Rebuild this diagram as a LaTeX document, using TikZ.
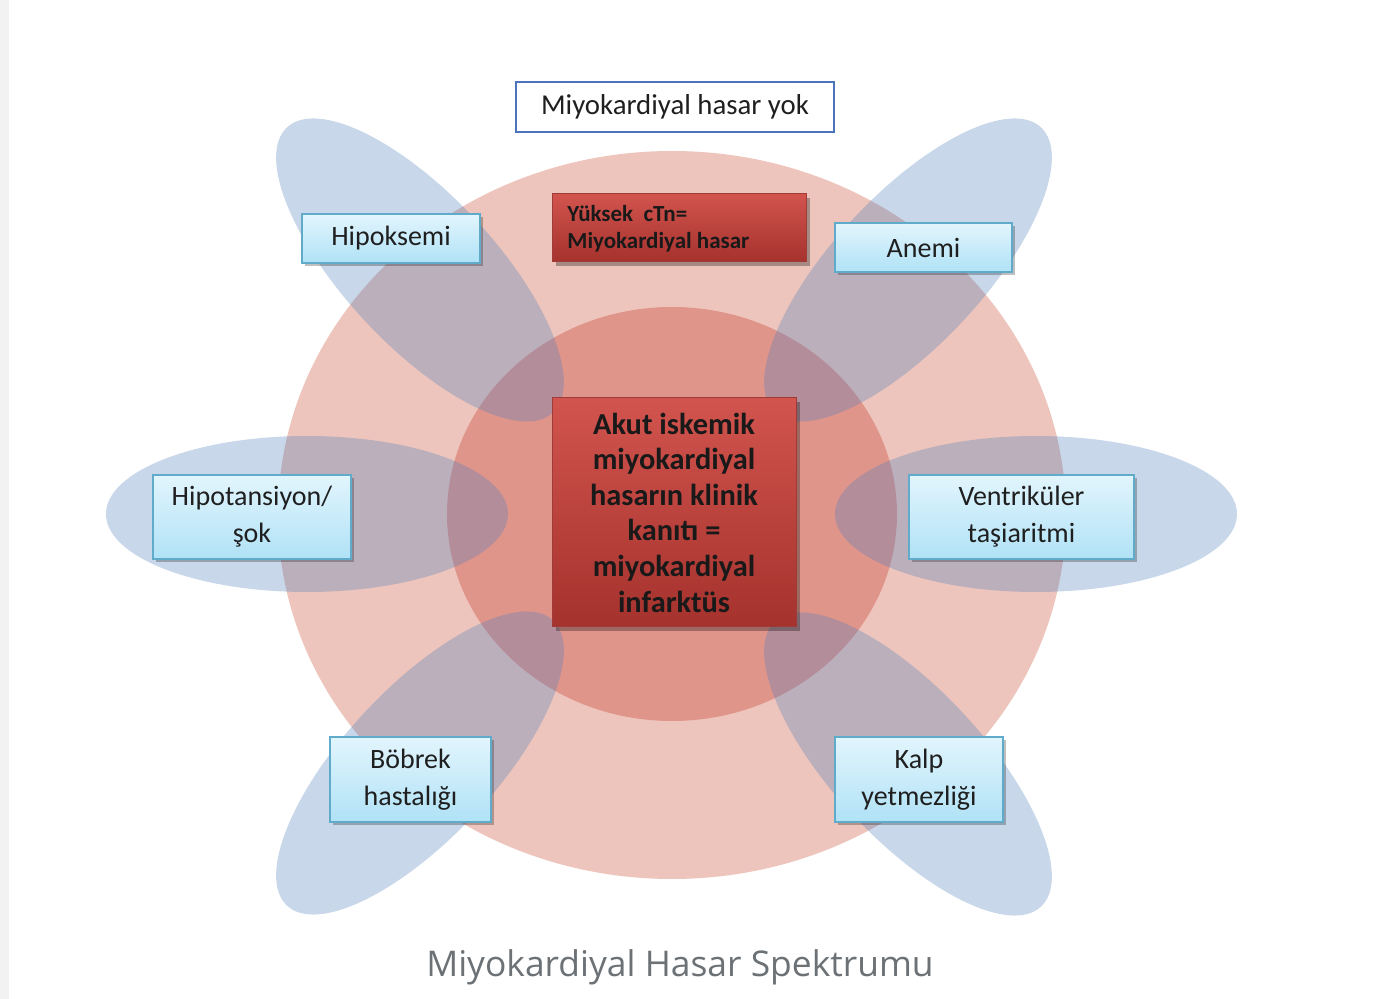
\documentclass[tikz,border=0pt]{standalone}
\usepackage{fontspec}
\setmainfont{Carlito}
\newfontfamily\capfont{Open Sans}
\usetikzlibrary{shadows}
\definecolor{outerc}{RGB}{238,197,188}
\definecolor{innerc}{RGB}{224,149,139}
\definecolor{petalc}{RGB}{79,129,189}
\definecolor{bluetop}{RGB}{226,245,253}
\definecolor{bluebot}{RGB}{176,226,246}
\definecolor{blueline}{RGB}{96,170,202}
\definecolor{redtop}{RGB}{210,84,78}
\definecolor{redbot}{RGB}{165,50,45}
\definecolor{redline}{RGB}{160,60,55}
\definecolor{topline}{RGB}{76,116,188}
\definecolor{capgray}{RGB}{108,113,118}
\definecolor{stripgray}{RGB}{242,242,242}
\tikzset{
  petal/.style={fill=petalc, fill opacity=0.31},
  bluebox/.style={draw=blueline, line width=0.6pt, top color=bluetop, bottom color=bluebot,
    inner sep=0pt, align=center, font=\fontsize{14}{18.5}\selectfont, text=black!88,
    drop shadow={shadow xshift=1.5pt, shadow yshift=-1.5pt, opacity=0.25, fill=black}},
  redbox/.style={draw=redline, line width=0.5pt, top color=redtop, bottom color=redbot,
    inner sep=0pt, text=black!90,
    drop shadow={shadow xshift=1.8pt, shadow yshift=-1.8pt, opacity=0.3, fill=black}},
}
\begin{document}
\begin{tikzpicture}[x=0.5pt,y=-0.5pt]
\useasboundingbox (0,0) rectangle (1389,999);
\fill[white] (0,0) rectangle (1389,999);
\fill[stripgray] (0,0) rectangle (9,999);
% circles
\fill[outerc] (672,515) ellipse [x radius=394, y radius=364];
\fill[innerc] (672,514) ellipse [x radius=225, y radius=207];
% petals
\fill[petal, rotate around={-47:(420,270)}] (420,270) ellipse [x radius=195, y radius=75];
\fill[petal, rotate around={47:(908,270)}] (908,270) ellipse [x radius=195, y radius=75];
\fill[petal] (307,514) ellipse [x radius=201, y radius=78];
\fill[petal] (1036,514) ellipse [x radius=201, y radius=78];
\fill[petal, rotate around={47:(420,763)}] (420,763) ellipse [x radius=195, y radius=75];
\fill[petal, rotate around={-47:(908,764)}] (908,764) ellipse [x radius=195, y radius=75];
% top box
\node[draw=topline, line width=1pt, fill=white, minimum width=159pt, minimum height=25pt,
  inner sep=0pt, font=\fontsize{14.4}{17}\selectfont, text=black!88] (yok) at (675,107) {Miyokardiyal hasar yok};
% red boxes
\node[redbox, minimum width=127pt, minimum height=34pt] (ctn) at (679,228) {};
\node[anchor=west, inner sep=0pt, align=left, font=\bfseries\fontsize{11.5}{13.6}\selectfont, text=black!90]
  (ctntext) at (567,229) {Yüksek\ \ cTn=\\Miyokardiyal hasar};
\node[redbox, minimum width=122pt, minimum height=114.5pt, align=center,
  font=\bfseries\fontsize{15.2}{17.8}\selectfont] (mi) at (674,512.5)
  {Akut iskemik\\miyokardiyal\\hasarın klinik\\kanıtı =\\miyokardiyal\\infarktüs};
% blue boxes
\node[bluebox, minimum width=89pt, minimum height=24.5pt] (hip) at (391,238.5) {Hipoksemi};
\node[bluebox, minimum width=88.5pt, minimum height=24.5pt] (ane) at (923.5,247.5) {Anemi};
\node[bluebox, minimum width=99pt, minimum height=42pt] (hipo) at (252,517) {Hipotansiyon/\\şok};
\node[bluebox, minimum width=112.5pt, minimum height=42pt] (ven) at (1021.5,517) {Ventriküler\\taşiaritmi};
\node[bluebox, minimum width=80.5pt, minimum height=42.5pt] (bob) at (410.5,779.5) {Böbrek\\hastalığı};
\node[bluebox, minimum width=84pt, minimum height=42.5pt] (kalp) at (919,779.5) {Kalp\\yetmezliği};
% caption
\node[font=\capfont\fontsize{17.7}{20}\selectfont, text=capgray, inner sep=0pt] (cap) at (680,967) {Miyokardiyal Hasar Spektrumu};
\end{tikzpicture}
\end{document}
